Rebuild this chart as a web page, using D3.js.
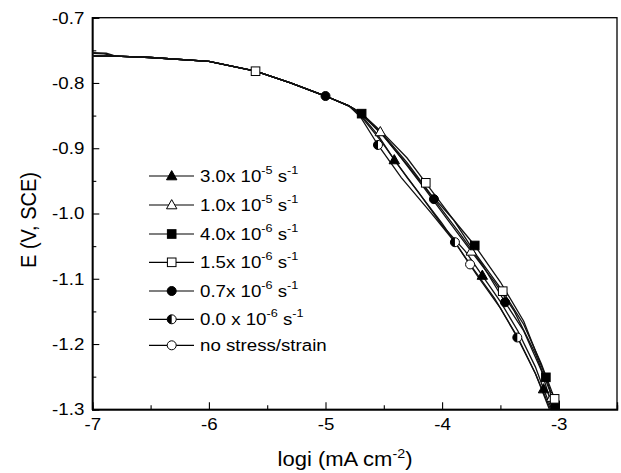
<!DOCTYPE html>
<html><head><meta charset="utf-8">
<script src="https://cdn.jsdelivr.net/npm/d3@7"></script>
<style>body{margin:0;background:#fff}svg{display:block}text{font-family:"Liberation Sans",Arial,sans-serif;fill:#000}</style>
</head><body><svg id="c" width="621" height="473"></svg>
<script>
const xTicks=[-7,-6,-5,-4,-3];
const xMinor=[-6.5,-5.5,-4.5,-3.5,-2.5];
const yTicks=[-0.7,-0.8,-0.9,-1.0,-1.1,-1.2,-1.3];
const yMinor=[-0.75,-0.85,-0.95,-1.05,-1.15,-1.25];
const seriesNames=["3.0x 10|-5| s|-1","1.0x 10|-5| s|-1","4.0x 10|-6| s|-1","1.5x 10|-6| s|-1","0.7x 10|-6| s|-1","0.0 x 10|-6| s|-1","no stress/strain"];
const seriesMarkers=["triFill","triOpen","sqFill","sqOpen","cirFill","cirHalf","cirOpen"];
const common=[[-6.8,-0.759],[-6.5,-0.761],[-6.0,-0.767],[-5.6,-0.782],[-5.3,-0.800],[-5.0,-0.820],[-4.8,-0.835]];
const starts=[[[-7,-0.7585]],[[-7,-0.7535],[-6.88,-0.7545]],[[-7,-0.759]],[[-7,-0.7545],[-6.9,-0.7555]],[[-7,-0.7588]],[[-7,-0.7592]],[[-7,-0.7583]]];
const s1=[[-4.7,-0.848],[-4.55,-0.880],[-4.41,-0.918],[-4.2,-0.968],[-4.0,-1.018],[-3.8,-1.058],[-3.655,-1.095],[-3.5,-1.135],[-3.35,-1.180],[-3.2,-1.235],[-3.13,-1.269],[-3.06,-1.300]];
const s2=[[-4.7,-0.846],[-4.53,-0.875],[-4.35,-0.915],[-4.15,-0.962],[-3.95,-1.010],[-3.75,-1.058],[-3.55,-1.105],[-3.38,-1.150],[-3.2,-1.215],[-3.08,-1.270],[-3.04,-1.300]];
const s3=[[-4.69,-0.847],[-4.5,-0.880],[-4.3,-0.922],[-4.1,-0.970],[-3.9,-1.010],[-3.72,-1.049],[-3.5,-1.105],[-3.3,-1.165],[-3.11,-1.251],[-3.03,-1.294],[-3.02,-1.300]];
const s4=[[-4.7,-0.845],[-4.5,-0.878],[-4.3,-0.915],[-4.14,-0.953],[-3.9,-1.010],[-3.7,-1.065],[-3.48,-1.119],[-3.3,-1.170],[-3.15,-1.230],[-3.035,-1.284],[-3.02,-1.300]];
const s5=[[-4.7,-0.846],[-4.5,-0.882],[-4.3,-0.925],[-4.07,-0.978],[-3.85,-1.030],[-3.65,-1.080],[-3.46,-1.136],[-3.3,-1.180],[-3.15,-1.240],[-3.05,-1.300]];
const s6=[[-4.7,-0.852],[-4.55,-0.895],[-4.35,-0.945],[-4.1,-0.998],[-3.89,-1.044],[-3.7,-1.095],[-3.5,-1.145],[-3.355,-1.190],[-3.2,-1.245],[-3.08,-1.300]];
const s7=[[-4.7,-0.850],[-4.52,-0.890],[-4.3,-0.945],[-4.0,-1.015],[-3.76,-1.078],[-3.55,-1.130],[-3.35,-1.190],[-3.2,-1.245],[-3.07,-1.300]];
const seriesData=[s1,s2,s3,s4,s5,s6,s7];
const markerPts=[
 [[-4.41,-0.918],[-3.655,-1.095],[-3.13,-1.269]],
 [[-4.53,-0.875],[-3.75,-1.058],[-3.06,-1.282]],
 [[-4.69,-0.847],[-3.72,-1.049],[-3.11,-1.251],[-3.03,-1.294]],
 [[-5.6,-0.782],[-4.14,-0.953],[-3.48,-1.119],[-3.035,-1.284]],
 [[-5.0,-0.820],[-4.07,-0.978],[-3.46,-1.136]],
 [[-4.55,-0.895],[-3.89,-1.044],[-3.355,-1.190]],
 [[-3.76,-1.078]]
];
const svg=d3.select("#c");
const m={l:92.3,r:617,t:17.7,b:409.3};
const SX=1.1;
const x=d3.scaleLinear().domain([-7,-2.5]).range([m.l,m.r]);
const y=d3.scaleLinear().domain([-0.7,-1.3]).range([m.t,m.b]);
svg.append("rect").attr("x",m.l).attr("y",m.t).attr("width",m.r-m.l).attr("height",m.b-m.t).attr("fill","none").attr("stroke","#000").attr("stroke-width",1.3);
const fs=17;
svg.append("g").attr("class","xa").attr("transform",`translate(0,${m.b})`).call(d3.axisBottom(x).tickValues(xTicks).tickSize(-7).tickPadding(9).tickFormat(d3.format("d")));
svg.append("g").attr("transform",`translate(0,${m.b})`).call(d3.axisBottom(x).tickValues(xMinor).tickSize(-4).tickFormat(""));
svg.append("g").attr("class","ya").attr("transform",`translate(${m.l},0)`).call(d3.axisLeft(y).tickValues(yTicks).tickSize(-7).tickPadding(8).tickFormat(d3.format(".1f")));
svg.append("g").attr("transform",`translate(${m.l},0)`).call(d3.axisLeft(y).tickValues(yMinor).tickSize(-4).tickFormat(""));
svg.selectAll(".domain").attr("stroke","#000").attr("stroke-width",1.3);
svg.selectAll(".tick line").attr("stroke","#000").attr("stroke-width",1.1);
svg.selectAll(".tick text").attr("font-size",fs).attr("font-family","Liberation Sans, Arial, sans-serif").text(function(){return d3.select(this).text().replace("−","-");}).attr("transform",`scale(${SX},1)`);
svg.selectAll(".ya .tick text").attr("x",-8/SX);
// titles
const xt=svg.append("text").attr("transform",`translate(${345},466) scale(${SX},1)`).attr("text-anchor","middle").attr("font-size",20);
xt.append("tspan").text("logi (mA cm");
xt.append("tspan").attr("dy",-8).attr("font-size",13).text("-2");
xt.append("tspan").attr("dy",8).text(")");
svg.append("text").attr("transform",`translate(36,220) scale(${SX},1) rotate(-90)`).attr("text-anchor","middle").attr("font-size",20).text("E (V, SCE)");
// curves
const line=d3.line().x(d=>x(d[0])).y(d=>y(d[1]));
const plot=svg.append("g");
seriesData.forEach((s,i)=>{
  plot.append("path").attr("d",line(starts[i].concat(common,s))).attr("fill","none").attr("stroke","#111").attr("stroke-width",1.3);
});
function drawMarker(g,type,cx,cy){
  const r=4.5;
  if(type.startsWith("tri")){
    g.append("path").attr("d",`M${cx},${cy-5.4}L${cx+5.2},${cy+3.8}L${cx-5.2},${cy+3.8}Z`).attr("fill",type==="triFill"?"#000":"#fff").attr("stroke","#000").attr("stroke-width",1);
  } else if(type.startsWith("sq")){
    g.append("rect").attr("x",cx-4.3).attr("y",cy-4.3).attr("width",8.6).attr("height",8.6).attr("fill",type==="sqFill"?"#000":"#fff").attr("stroke","#000").attr("stroke-width",1);
  } else if(type==="cirHalf"){
    g.append("circle").attr("cx",cx).attr("cy",cy).attr("r",r).attr("fill","#fff").attr("stroke","#000").attr("stroke-width",1);
    g.append("path").attr("d",`M${cx},${cy-r}A${r},${r} 0 0 0 ${cx},${cy+r}Z`).attr("fill","#000");
  } else {
    g.append("circle").attr("cx",cx).attr("cy",cy).attr("r",r).attr("fill",type==="cirFill"?"#000":"#fff").attr("stroke","#000").attr("stroke-width",1);
  }
}
markerPts.forEach((pts,i)=>pts.forEach(p=>drawMarker(plot,seriesMarkers[i],x(p[0]),y(p[1]))));
// legend
const legY=[176,205,234,262.3,291,319.3,345.3];
const leg=svg.append("g");
seriesNames.forEach((n,i)=>{
  const yy=legY[i];
  leg.append("line").attr("x1",149).attr("x2",194).attr("y1",yy).attr("y2",yy).attr("stroke","#000").attr("stroke-width",1.2);
  drawMarker(leg,seriesMarkers[i],171.7,yy);
  const t=leg.append("text").attr("transform",`translate(200,${yy+6}) scale(${SX},1)`).attr("font-size",fs);
  const parts=n.split("|");
  parts.forEach((p,k)=>{
    if(k%2===1) t.append("tspan").attr("dy",-8).attr("font-size",11.5).text(p);
    else t.append("tspan").attr("dy",k>0?8:0).text(p);
  });
});
</script></body></html>
